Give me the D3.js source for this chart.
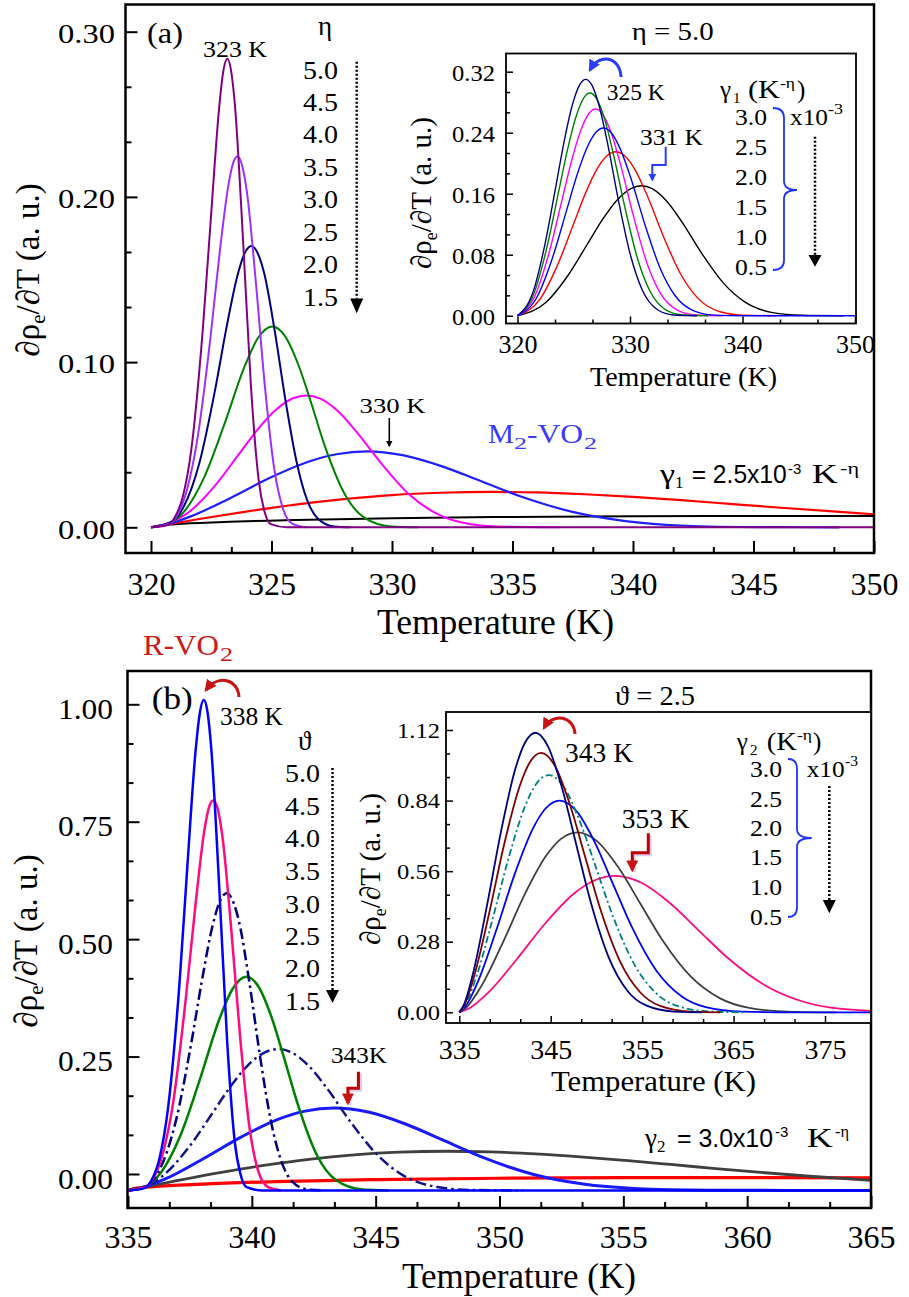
<!DOCTYPE html>
<html><head><meta charset="utf-8">
<script src="https://cdn.jsdelivr.net/npm/d3@7"></script>
<style>body{margin:0;background:#fff}svg{display:block}</style>
</head><body><script>
// ===================== DATA =====================
const etaLabels   = ["5.0","4.5","4.0","3.5","3.0","2.5","2.0","1.5"];
const thetaLabels = ["5.0","4.5","4.0","3.5","3.0","2.5","2.0","1.5"];
const gamma1Labels = ["3.0","2.5","2.0","1.5","1.0","0.5"];
const gamma2Labels = ["3.0","2.5","2.0","1.5","1.0","0.5"];

const xTicksA = [320,325,330,335,340,345,350];
const yTicksA = [0,0.1,0.2,0.3];
const xTicksIA = [320,330,340,350];
const yTicksIA = [0,0.08,0.16,0.24,0.32];
const xTicksB = [335,340,345,350,355,360,365];
const yTicksB = [0,0.25,0.5,0.75,1.0];
const xTicksIB = [335,345,355,365,375];
const yTicksIB = [0,0.28,0.56,0.84,1.12];

// Panel (a): gamma1 = 2.5e-3, eta = 5.0 ... 1.5  [T (K), dRho/dT]
const aEta50 = [[320,0],[320.66,0.0012],[320.99,0.0061],[321.33,0.0191],[321.66,0.0457],[322.15,0.1200],[322.49,0.1883],[322.82,0.2527],[322.98,0.2742],[323.17,0.2836],[323.31,0.2775],[323.48,0.2559],[323.81,0.1765],[324.14,0.0871],[324.47,0.0283],[324.71,0.0095],[324.97,0.0019],[325.63,0],[350,0]];
const aEta45 = [[320,0],[320.76,0.0021],[321.14,0.0087],[321.51,0.0237],[321.89,0.0503],[322.46,0.1139],[322.84,0.1651],[323.22,0.2079],[323.41,0.2206],[323.58,0.2245],[323.79,0.2186],[323.98,0.2029],[324.35,0.1485],[324.73,0.0847],[325.11,0.0358],[325.49,0.0106],[325.87,0.0021],[326.44,0]];
const aEta40 = [[320,0],[320.89,0.0036],[321.34,0.0120],[322.01,0.0391],[322.68,0.0848],[323.13,0.1207],[323.58,0.1520],[323.89,0.1660],[324.16,0.1703],[324.47,0.1645],[324.70,0.1536],[325.14,0.1183],[325.59,0.0760],[326.04,0.0397],[326.48,0.0164],[326.93,0.0052],[327.60,0.0005],[328.27,0]];
const aEta35 = [[320,0],[320.66,0.0016],[321.39,0.0098],[322.22,0.0307],[323.05,0.0626],[323.88,0.0972],[324.43,0.1144],[325.03,0.1216],[325.54,0.1162],[326.09,0.0993],[326.65,0.0751],[327.20,0.0497],[328.03,0.0203],[328.86,0.0057],[329.97,0.0005],[331.08,0]];
const aEta30 = [[320,0],[321.47,0.0081],[322.58,0.0239],[323.68,0.0449],[324.42,0.0591],[325.16,0.0708],[325.89,0.0781],[326.44,0.0798],[327.00,0.0780],[327.74,0.0705],[328.47,0.0588],[329.58,0.0382],[330.68,0.0203],[331.79,0.0087],[333.26,0.0019],[334.74,0.0003],[336.95,0]];
const aEta25 = [[320,0],[320.55,0.0013],[321.65,0.0066],[323.30,0.0178],[324.94,0.0300],[326.59,0.0400],[327.69,0.0442],[328.96,0.0460],[330.44,0.0437],[332.08,0.0369],[333.73,0.0277],[335.38,0.0185],[337.58,0.0090],[339.77,0.0036],[341.97,0.0011],[345.27,0.0001],[348.56,0]];
const aEta20 = [[320,0],[322,0.0050],[324,0.0096],[326,0.0137],[328,0.0170],[330,0.0195],[332,0.0209],[334.14,0.0214],[336,0.0211],[338,0.0200],[340,0.0184],[342,0.0164],[344,0.0142],[346,0.0120],[348,0.0099],[350,0.0079]];
const aEta15 = [[320,0],[320.3,0.0010],[321,0.0019],[323,0.0032],[326,0.0044],[330,0.0055],[335,0.0063],[340,0.0067],[345,0.0069],[350,0.0068]];

// Inset (a): eta = 5.0, gamma1 = 3.0 ... 0.5 (x1e-3)
const iaG30 = [[320,0],[321.39,0.0314],[322.43,0.0929],[323.47,0.1745],[324.16,0.2295],[324.85,0.2750],[325.55,0.3033],[326.06,0.3100],[326.59,0.3030],[327.28,0.2740],[327.97,0.2286],[329.01,0.1486],[330.05,0.0789],[331.09,0.0337],[332.48,0.0075],[333.87,0.0010],[335.95,0]];
const iaG25 = [[320,0],[321.47,0.0296],[322.58,0.0875],[323.68,0.1643],[324.42,0.2161],[325.16,0.2590],[325.89,0.2857],[326.44,0.2920],[327.00,0.2853],[327.74,0.2581],[328.47,0.2153],[329.58,0.1399],[330.68,0.0743],[331.79,0.0317],[333.26,0.0071],[334.74,0.0010],[336.95,0]];
const iaG20 = [[320,0],[321.59,0.0275],[322.78,0.0812],[323.97,0.1525],[324.76,0.2006],[325.56,0.2404],[326.35,0.2652],[326.94,0.2710],[327.54,0.2648],[328.33,0.2395],[329.13,0.1998],[330.32,0.1299],[331.51,0.0689],[332.70,0.0295],[334.29,0.0066],[335.87,0.0009],[338.26,0]];
const iaG15 = [[320,0],[321.75,0.0249],[323.06,0.0737],[324.37,0.1385],[325.24,0.1822],[326.12,0.2184],[326.99,0.2408],[327.64,0.2461],[328.30,0.2405],[329.17,0.2175],[330.05,0.1815],[331.36,0.1179],[332.67,0.0626],[333.98,0.0268],[335.73,0.0060],[337.47,0.0008],[340.09,0],[350,0]];
const iaG10 = [[320,0],[322,0.0218],[323.5,0.0644],[325,0.1210],[326,0.1591],[327,0.1907],[328,0.2104],[328.74,0.2150],[329.5,0.2101],[330.5,0.1900],[331.5,0.1585],[333,0.1030],[334.5,0.0547],[336,0.0234],[338,0.0052],[340,0.0007],[343,0]];
const iaG05 = [[320,0],[322.52,0.0173],[324.41,0.0511],[326.30,0.0960],[327.56,0.1262],[328.82,0.1512],[330.08,0.1668],[331.01,0.1705],[331.97,0.1666],[333.23,0.1507],[334.49,0.1257],[336.38,0.0817],[338.27,0.0434],[340.16,0.0185],[342.68,0.0041],[345.20,0.0006],[348.98,0]];

// Panel (b): gamma2 = 3.0e-3, theta = 5.0 ... 1.5
const bTh50 = [[335,-0.035],[335.64,-0.0306],[335.96,-0.0126],[336.28,0.0353],[336.60,0.1333],[337.08,0.4065],[337.40,0.6581],[337.72,0.8953],[337.88,0.9744],[338.06,1.0089],[338.20,0.9867],[338.36,0.9070],[338.68,0.6148],[339.00,0.2855],[339.31,0.0691],[339.54,0.0000],[339.79,-0.0279],[340.43,-0.035],[365,-0.035]];
const bTh45 = [[335,-0.035],[335.73,-0.0271],[336.09,-0.0027],[336.45,0.0524],[336.82,0.1509],[337.36,0.3862],[337.73,0.5753],[338.09,0.7337],[338.27,0.7805],[338.44,0.7950],[338.64,0.7733],[338.82,0.7151],[339.18,0.5140],[339.55,0.2783],[339.91,0.0975],[340.27,0.0043],[340.64,-0.0273],[341.18,-0.0348]];
const bTh40 = [[335,-0.035],[335.85,-0.0217],[336.28,0.0095],[336.92,0.1104],[337.56,0.2802],[337.99,0.4133],[338.42,0.5298],[338.72,0.5820],[338.98,0.5976],[339.27,0.5763],[339.49,0.5356],[339.91,0.4047],[340.34,0.2475],[340.77,0.1126],[341.20,0.0260],[341.62,-0.0157],[342.26,-0.0330],[342.91,-0.035]];
const bTh35 = [[335,-0.035],[335.63,-0.0291],[336.31,0.0016],[337.10,0.0798],[337.89,0.1993],[338.68,0.3285],[339.21,0.3928],[339.78,0.4198],[340.26,0.3997],[340.78,0.3362],[341.31,0.2457],[341.84,0.1510],[342.62,0.0411],[343.41,-0.0135],[344.46,-0.0330],[345.52,-0.035]];
const bTh30 = [[335,-0.035],[335.69,-0.0273],[336.39,-0.0045],[337.43,0.0552],[338.47,0.1344],[339.16,0.1878],[339.85,0.2320],[340.55,0.2595],[341.06,0.2660],[341.59,0.2591],[342.28,0.2310],[342.97,0.1870],[344.01,0.1092],[345.05,0.0416],[346.09,-0.0023],[347.48,-0.0277],[348.87,-0.0340],[350.95,-0.035]];
const bTh25 = [[335,-0.035],[335.51,-0.0301],[336.53,-0.0100],[338.06,0.0330],[339.60,0.0795],[341.13,0.1178],[342.15,0.1339],[343.33,0.1405],[344.70,0.1319],[346.23,0.1059],[347.77,0.0708],[349.30,0.0358],[351.34,-0.0005],[353.38,-0.0214],[355.43,-0.0307],[358.49,-0.0345],[361.55,-0.035],[365,-0.035]];
const bTh20 = [[335,-0.035],[335.5,-0.0297],[336.83,-0.0158],[338.65,0.0024],[340.48,0.0183],[342.30,0.0313],[344.13,0.0407],[345.95,0.0464],[347.91,0.0484],[349.61,0.0470],[351.43,0.0428],[353.26,0.0365],[355.08,0.0288],[356.91,0.0203],[358.73,0.0116],[360.56,0.0034],[362.39,-0.0043],[365,-0.0135]];
const bTh15 = [[335,-0.035],[335.25,-0.0310],[336,-0.0270],[338,-0.0214],[341,-0.0163],[345,-0.0120],[350,-0.0090],[355,-0.0077],[360,-0.0076],[365,-0.0083]];

// Inset (b): theta = 2.5, gamma2 = 3.0 ... 0.5 (x1e-3)
const ibG30 = [[335,0],[335.51,0.0307],[336.53,0.1582],[338.06,0.4295],[339.60,0.7238],[341.13,0.9658],[342.15,1.0674],[343.33,1.1091],[344.70,1.0550],[346.23,0.8905],[347.77,0.6689],[349.30,0.4473],[351.34,0.2180],[353.38,0.0857],[355.43,0.0272],[358.49,0.0030],[361.55,0]];
const ibG25 = [[335,0],[335.55,0.0285],[336.65,0.1468],[338.30,0.3985],[339.94,0.6717],[341.59,0.8961],[342.69,0.9904],[343.96,1.0291],[345.44,0.9789],[347.08,0.8263],[348.73,0.6207],[350.38,0.4151],[352.58,0.2023],[354.78,0.0795],[356.97,0.0252],[360.27,0.0028],[363.56,0]];
const ibG20 = [[335,0],[335.60,0.0261],[336.80,0.1342],[338.60,0.3644],[340.41,0.6142],[342.21,0.8195],[343.41,0.9057],[344.79,0.9411],[346.41,0.8952],[348.21,0.7556],[350.01,0.5676],[351.82,0.3796],[354.22,0.1850],[356.62,0.0727],[359.02,0.0231],[362.63,0.0026],[366.23,0]];
const ibG15 = [[335,0],[335.67,0.0233],[337.02,0.1198],[339.04,0.3253],[341.06,0.5483],[343.09,0.7315],[344.43,0.8085],[345.99,0.8401],[347.80,0.7991],[349.82,0.6745],[351.84,0.5067],[353.87,0.3388],[356.56,0.1652],[359.26,0.0649],[361.95,0.0206],[365.99,0.0023],[370.04,0],[380,0]];
const ibG10 = [[335,0],[335.79,0.0198],[337.38,0.1018],[339.76,0.2765],[342.13,0.4660],[344.51,0.6218],[346.09,0.6872],[347.92,0.7141],[350.06,0.6793],[352.43,0.5734],[354.81,0.4307],[357.19,0.2880],[360.36,0.1404],[363.53,0.0552],[366.70,0.0175],[371.45,0.0019],[376.21,0]];
const ibG05 = [[335,0],[336.05,0.0150],[338.14,0.0772],[341.27,0.2096],[344.41,0.3532],[347.55,0.4713],[349.64,0.5209],[352.05,0.5412],[354.87,0.5148],[358.00,0.4346],[361.14,0.3264],[364.28,0.2183],[368.46,0.1064],[372.64,0.0418],[376.83,0.0133],[383.10,0.0015]];

// ===================== STYLE =====================
const SERIF = "'Liberation Serif','Times New Roman',serif";
const SANS = "'Liberation Sans',Arial,sans-serif";
const aColors  = ["#800080","#9b30ff","#000080","#008000","#ff00ff","#2020ff","#ff0000","#000000"];
const iaColors = ["#000080","#008000","#ff00ff","#0000ff","#ff0000","#000000"];
const bColors  = ["#0000ff","#ff0a7f","#000080","#008000","#14148c","#1a1aff","#404040","#ff0000"];
const ibColors = ["#000080","#800000","#008080","#0000ff","#404040","#ff0a7f"];

const W = 909, H = 1297;
const svg = d3.select("body").append("svg").attr("width", W).attr("height", H);
const defs = svg.append("defs");

function minorTicks(major, n) {
  const out = [];
  for (let i = 0; i < major.length - 1; i++) {
    const s = (major[i + 1] - major[i]) / n;
    for (let k = 1; k < n; k++) out.push(major[i] + k * s);
  }
  return out;
}

function drawPanel(c) {
  const x = d3.scaleLinear().domain(c.xd).range(c.xr);
  const y = d3.scaleLinear().domain(c.yd).range(c.yr);
  const f = c.f;
  const g = svg.append("g");
  if (c.bg) g.append("rect").attr("x", f.l).attr("y", f.t).attr("width", f.r - f.l).attr("height", f.b - f.t).attr("fill", "#fff");
  defs.append("clipPath").attr("id", c.id).append("rect").attr("x", f.l).attr("y", f.t).attr("width", f.r - f.l).attr("height", f.b - f.t);
  const plot = g.append("g").attr("clip-path", `url(#${c.id})`);
  const line = d3.line().x(d => x(d[0])).y(d => y(d[1])).curve(d3.curveMonotoneX);
  c.order.forEach(i => {
    const p = plot.append("path").attr("d", line(c.series[i])).attr("fill", "none")
      .attr("stroke", c.colors[i]).attr("stroke-width", c.widths[i]).attr("stroke-linejoin", "round");
    if (c.dashes && c.dashes[i]) p.attr("stroke-dasharray", c.dashes[i]);
  });
  const tk = sel => {
    sel.select(".domain").remove();
    sel.selectAll(".tick line").attr("stroke", "#000").attr("stroke-width", c.tickW);
    sel.attr("font-family", null).attr("font-size", null);
  };
  const xb = g.append("g").attr("transform", `translate(0,${f.b})`)
    .call(d3.axisBottom(x).tickValues(c.xMajor).tickSize(-c.majLen).tickFormat(d3.format("d")));
  tk(xb);
  xb.selectAll("text").attr("y", c.xOff).attr("dy", null).attr("font-family", SERIF).attr("font-size", c.xfs).attr("fill", "#000");
  const xm = g.append("g").attr("transform", `translate(0,${f.b})`)
    .call(d3.axisBottom(x).tickValues(minorTicks(c.xMajor, 3).filter(v => v <= c.xd[1] + 5)).tickSize(-c.minLen).tickFormat(""));
  tk(xm);
  const yl = g.append("g").attr("transform", `translate(${f.l},0)`)
    .call(d3.axisLeft(y).tickValues(c.yMajor).tickSize(-c.majLen).tickPadding(c.yPad).tickFormat(d3.format(".2f")));
  tk(yl);
  yl.selectAll("text").attr("dy", c.yDy).attr("font-family", SERIF).attr("font-size", c.yfs).attr("fill", "#000");
  if (c.yTL) yl.selectAll("text").attr("textLength", c.yTL).attr("lengthAdjust", "spacingAndGlyphs");
  const ym = g.append("g").attr("transform", `translate(${f.l},0)`)
    .call(d3.axisLeft(y).tickValues(minorTicks(c.yMajor, 3)).tickSize(-c.minLen).tickFormat(""));
  tk(ym);
  g.append("rect").attr("x", f.l).attr("y", f.t).attr("width", f.r - f.l).attr("height", f.b - f.t)
    .attr("fill", "none").attr("stroke", "#000").attr("stroke-width", c.frameW);
  return { x, y, g };
}

// ---------- Panel (a) ----------
drawPanel({
  id: "clipA", xd: [320, 350], xr: [151, 874], yd: [0, 0.3], yr: [527.3, 31.7],
  f: { l: 125.5, r: 874, t: 4.5, b: 553 },
  series: [aEta50, aEta45, aEta40, aEta35, aEta30, aEta25, aEta20, aEta15],
  colors: aColors, widths: [2, 2, 2, 2, 2, 2.2, 2.2, 2],
  order: [7, 6, 5, 4, 3, 2, 1, 0],
  xMajor: xTicksA, yMajor: yTicksA, majLen: 12, minLen: 6, tickW: 2,
  xOff: 42, xfs: 32, yPad: 10.5, yDy: "0.4em", yfs: 27, yTL: 57, frameW: 2.5
});
// ---------- Inset (a) ----------
drawPanel({
  id: "clipIA", bg: true, xd: [320, 350], xr: [517.5, 855], yd: [0, 0.32], yr: [315.7, 71.7],
  f: { l: 506, r: 856, t: 53.5, b: 323.5 },
  series: [iaG30, iaG25, iaG20, iaG15, iaG10, iaG05],
  colors: iaColors, widths: [1.4, 1.4, 1.4, 1.4, 1.4, 1.4],
  order: [5, 4, 2, 1, 0, 3],
  xMajor: xTicksIA, yMajor: yTicksIA, majLen: 7, minLen: 4, tickW: 1.5,
  xOff: 29.5, xfs: 26, yPad: 11, yDy: "0.37em", yfs: 22.5, yTL: 43, frameW: 1.8
});
// ---------- Panel (b) ----------
drawPanel({
  id: "clipB", xd: [335, 365], xr: [128, 871], yd: [0, 1], yr: [1174, 704.3],
  f: { l: 127.5, r: 871, t: 671, b: 1208 },
  series: [bTh50, bTh45, bTh40, bTh35, bTh30, bTh25, bTh20, bTh15],
  colors: bColors, widths: [2.5, 2.5, 2.5, 2.5, 2.5, 3, 2.8, 3.2],
  dashes: [null, null, "11,4,2.5,4", null, "11,4,2.5,4", null, null, null],
  order: [7, 6, 5, 4, 3, 2, 1, 0],
  xMajor: xTicksB, yMajor: yTicksB, majLen: 12, minLen: 6, tickW: 2,
  xOff: 40, xfs: 32, yPad: 14.5, yDy: "14px", yfs: 29, yTL: 55, frameW: 2.5
});
// ---------- Inset (b) ----------
drawPanel({
  id: "clipIB", bg: true, xd: [335, 375], xr: [459.3, 825], yd: [0, 1.12], yr: [1012.3, 730],
  f: { l: 446, r: 871, t: 712, b: 1023 },
  series: [ibG30, ibG25, ibG20, ibG15, ibG10, ibG05],
  colors: ibColors, widths: [1.8, 1.8, 1.8, 1.8, 1.8, 1.8],
  dashes: [null, null, "7,3,2,3", null, null, null],
  order: [5, 4, 3, 2, 1, 0],
  xMajor: xTicksIB, yMajor: yTicksIB, majLen: 7, minLen: 4, tickW: 1.5,
  xOff: 36, xfs: 28, yPad: 6, yDy: "7px", yfs: 21, yTL: 43, frameW: 1.8
});

// ===================== TEXT & ANNOTATIONS =====================
function txt(x, y, s, o = {}) {
  const t = svg.append("text").attr("x", x).attr("y", y).text(s)
    .attr("font-family", o.ff || SERIF).attr("font-size", o.fs || 24).attr("fill", o.fill || "#000");
  if (o.anchor) t.attr("text-anchor", o.anchor);
  if (o.tl) t.attr("textLength", o.tl).attr("lengthAdjust", "spacingAndGlyphs");
  return t;
}
function rich(x, y, parts, o = {}) {
  const t = svg.append("text").attr("x", x).attr("y", y).attr("font-family", SERIF).attr("fill", o.fill || "#000");
  if (o.anchor) t.attr("text-anchor", o.anchor);
  if (o.rot) t.attr("transform", `rotate(-90,${x},${y})`);
  parts.forEach(p => {
    const s = t.append("tspan").text(p.t).attr("font-size", p.fs);
    if (p.x != null) s.attr("x", p.x);
    if (p.y != null) s.attr("y", p.y);
    if (p.dy != null) s.attr("dy", p.dy);
    if (p.ff) s.attr("font-family", p.ff);
    if (p.tl) s.attr("textLength", p.tl).attr("lengthAdjust", "spacingAndGlyphs");
  });
  return t;
}
function marker(id, color) {
  defs.append("marker").attr("id", id).attr("viewBox", "0 0 10 10").attr("refX", 8).attr("refY", 5)
    .attr("markerWidth", 4).attr("markerHeight", 4).attr("orient", "auto")
    .append("path").attr("d", "M0,0L10,5L0,10z").attr("fill", color);
}
marker("mBlue", "#2a3cff"); marker("mRed", "#c81414"); marker("mBlack", "#000");
function arrowPath(d, color, w, m, shadow) {
  if (shadow) svg.append("path").attr("d", d).attr("transform", "translate(2,2)").attr("fill", "none")
    .attr("stroke", shadow).attr("stroke-width", w).attr("opacity", 0.6);
  svg.append("path").attr("d", d).attr("fill", "none").attr("stroke", color).attr("stroke-width", w)
    .attr("marker-end", `url(#${m})`);
}
function dottedArrow(x, y0, y1, tip) {
  svg.append("line").attr("x1", x).attr("x2", x).attr("y1", y0).attr("y2", y1)
    .attr("stroke", "#000").attr("stroke-width", 2.5).attr("stroke-dasharray", "2,2");
  svg.append("path").attr("d", `M${x - 6.5},${y1}L${x + 6.5},${y1}L${x},${tip}Z`).attr("fill", "#000");
}
function brace(x0, x1, x2, y0, ym, y1, color) {
  svg.append("path").attr("d",
    `M${x0},${y0}Q${x1},${y0} ${x1},${y0 + 10}L${x1},${ym - 9}Q${x1},${ym} ${x2},${ym}Q${x1},${ym} ${x1},${ym + 9}L${x1},${y1 - 10}Q${x1},${y1} ${x0},${y1}`)
    .attr("fill", "none").attr("stroke", color).attr("stroke-width", 1.8);
}
function yLabel(x, y, fs, sub) {
  rich(x, y, [{ t: "∂ρ", fs: fs }, { t: "e", fs: sub, dy: 6 }, { t: "/∂T (a. u.)", fs: fs, dy: -6 }], { rot: true, anchor: "middle" });
}

// ---- Panel (a) texts ----
txt(495.5, 634, "Temperature (K)", { fs: 35, anchor: "middle", tl: 237 });
yLabel(39, 270, 33, 21);
txt(147, 43, "(a)", { fs: 30, tl: 36 });
txt(203, 57, "323 K", { fs: 24, tl: 64 });
txt(318, 35, "η", { fs: 27 });
etaLabels.forEach((s, i) => txt(303, [79, 110.7, 143, 175.7, 208, 240.7, 273, 305.7][i], s, { fs: 25, tl: 35 }));
dottedArrow(356.7, 61.7, 298.5, 313.3);
txt(359.6, 413.3, "330 K", { fs: 22, tl: 66 });
arrowPath("M389.3,418V446", "#000", 1.6, "mBlack");
rich(488, 443, [
  { t: "M", fs: 28, tl: 26 }, { t: "2", fs: 17, x: 514, y: 449, tl: 13 },
  { t: "-VO", fs: 28, x: 527, y: 443, tl: 56 }, { t: "2", fs: 17, x: 584, y: 449, tl: 13 }
], { fill: "#3a3aff" });
rich(660, 483, [
  { t: "γ", fs: 28, tl: 15 }, { t: "1", fs: 17, x: 675, y: 488 },
  { t: "= 2.5x10", fs: 25, ff: SANS, x: 691.7, y: 483, tl: 95 },
  { t: "-3", fs: 15, ff: SANS, x: 788, y: 474 },
  { t: "K", fs: 28, x: 811.7, y: 483, tl: 26 },
  { t: "-η", fs: 17, x: 840, y: 474, tl: 19 }
]);

// ---- Inset (a) texts ----
txt(683.5, 386, "Temperature (K)", { fs: 27, anchor: "middle", tl: 187 });
yLabel(431, 193, 29, 18);
txt(631.7, 40, "η = 5.0", { fs: 26, tl: 82 });
txt(606.7, 100, "325 K", { fs: 23, tl: 58 });
txt(640, 145, "331 K", { fs: 23, tl: 63 });
arrowPath("M621,77C620,57 600,52 590,70", "#2a3cff", 3, "mBlue");
arrowPath("M665.7,146.7V165H652.3V180", "#2a3cff", 2, "mBlue");
rich(720, 98.3, [
  { t: "γ", fs: 25 }, { t: "1", fs: 15, x: 733, y: 103 },
  { t: "(K", fs: 25, x: 748, y: 98.3, tl: 32 }, { t: "-η", fs: 15, x: 780, y: 88, tl: 15 },
  { t: ")", fs: 25, x: 797, y: 98.3 }
]);
gamma1Labels.forEach((s, i) => txt(735, [125, 155, 185, 215, 245, 275][i], s, { fs: 23, tl: 32 }));
brace(773, 784, 797, 108, 190, 270, "#1e32ff");
rich(790, 125, [{ t: "x10", fs: 23, tl: 38 }, { t: "-3", fs: 14, x: 828, y: 114, tl: 15 }]);
dottedArrow(815, 136.7, 255, 266.7);

// ---- Panel (b) texts ----
txt(519, 1288, "Temperature (K)", { fs: 35, anchor: "middle", tl: 234 });
yLabel(37, 941, 33, 21);
rich(143, 655, [{ t: "R-VO", fs: 29, tl: 76 }, { t: "2", fs: 18, x: 220, y: 661, tl: 13 }], { fill: "#d01818" });
txt(151.7, 709, "(b)", { fs: 32, tl: 41 });
txt(220, 725, "338 K", { fs: 25, tl: 63 });
arrowPath("M239,697C238,679 218,674 206,690", "#c81414", 3, "mRed");
txt(298, 750, "ϑ", { fs: 27 });
thetaLabels.forEach((s, i) => txt(285, [781.7, 815, 846.7, 880, 913.3, 945, 977, 1010][i], s, { fs: 25, tl: 35 }));
dottedArrow(332.5, 768, 990, 1003);
txt(331, 1063.3, "343K", { fs: 23, tl: 56 });
arrowPath("M358.4,1071.7V1088.3H347.9V1103", "#c00000", 3, "mRed", "#c8a8e0");
rich(645, 1146.7, [
  { t: "γ", fs: 28, tl: 12 }, { t: "2", fs: 17, x: 657, y: 1152 },
  { t: "= 3.0x10", fs: 25, ff: SANS, x: 677, y: 1146.7, tl: 96 },
  { t: "-3", fs: 15, ff: SANS, x: 775, y: 1137 },
  { t: "K", fs: 28, x: 806.7, y: 1146.7, tl: 26 },
  { t: "-η", fs: 17, x: 835, y: 1137, tl: 14 }
]);

// ---- Inset (b) texts ----
txt(653.5, 1091, "Temperature (K)", { fs: 29, anchor: "middle", tl: 205 });
yLabel(380, 869, 29, 18);
txt(615, 705, "ϑ = 2.5", { fs: 27, tl: 80 });
txt(565, 761.7, "343 K", { fs: 27, tl: 68 });
txt(621.7, 828.3, "353 K", { fs: 27, tl: 68 });
arrowPath("M575,734C574,716 553,712 544,728", "#c81414", 3, "mRed");
arrowPath("M648.3,833.3V852.7H632.3V870", "#c00000", 3, "mRed", "#c8a8e0");
rich(736.7, 750, [
  { t: "γ", fs: 25 }, { t: "2", fs: 15, x: 750, y: 755 },
  { t: "(K", fs: 25, x: 766.7, y: 750, tl: 30 }, { t: "-η", fs: 15, x: 797, y: 740, tl: 15 },
  { t: ")", fs: 25, x: 813, y: 750 }
]);
gamma2Labels.forEach((s, i) => txt(750, [776.7, 806.7, 836, 865, 895, 925][i], s, { fs: 23, tl: 32 }));
brace(788, 797, 811.7, 759, 838, 917, "#1e32ff");
rich(806.7, 776.7, [{ t: "x10", fs: 23, tl: 38 }, { t: "-3", fs: 14, x: 845, y: 766, tl: 13 }]);
dottedArrow(829.3, 786, 900, 913.3);
</script></body></html>
